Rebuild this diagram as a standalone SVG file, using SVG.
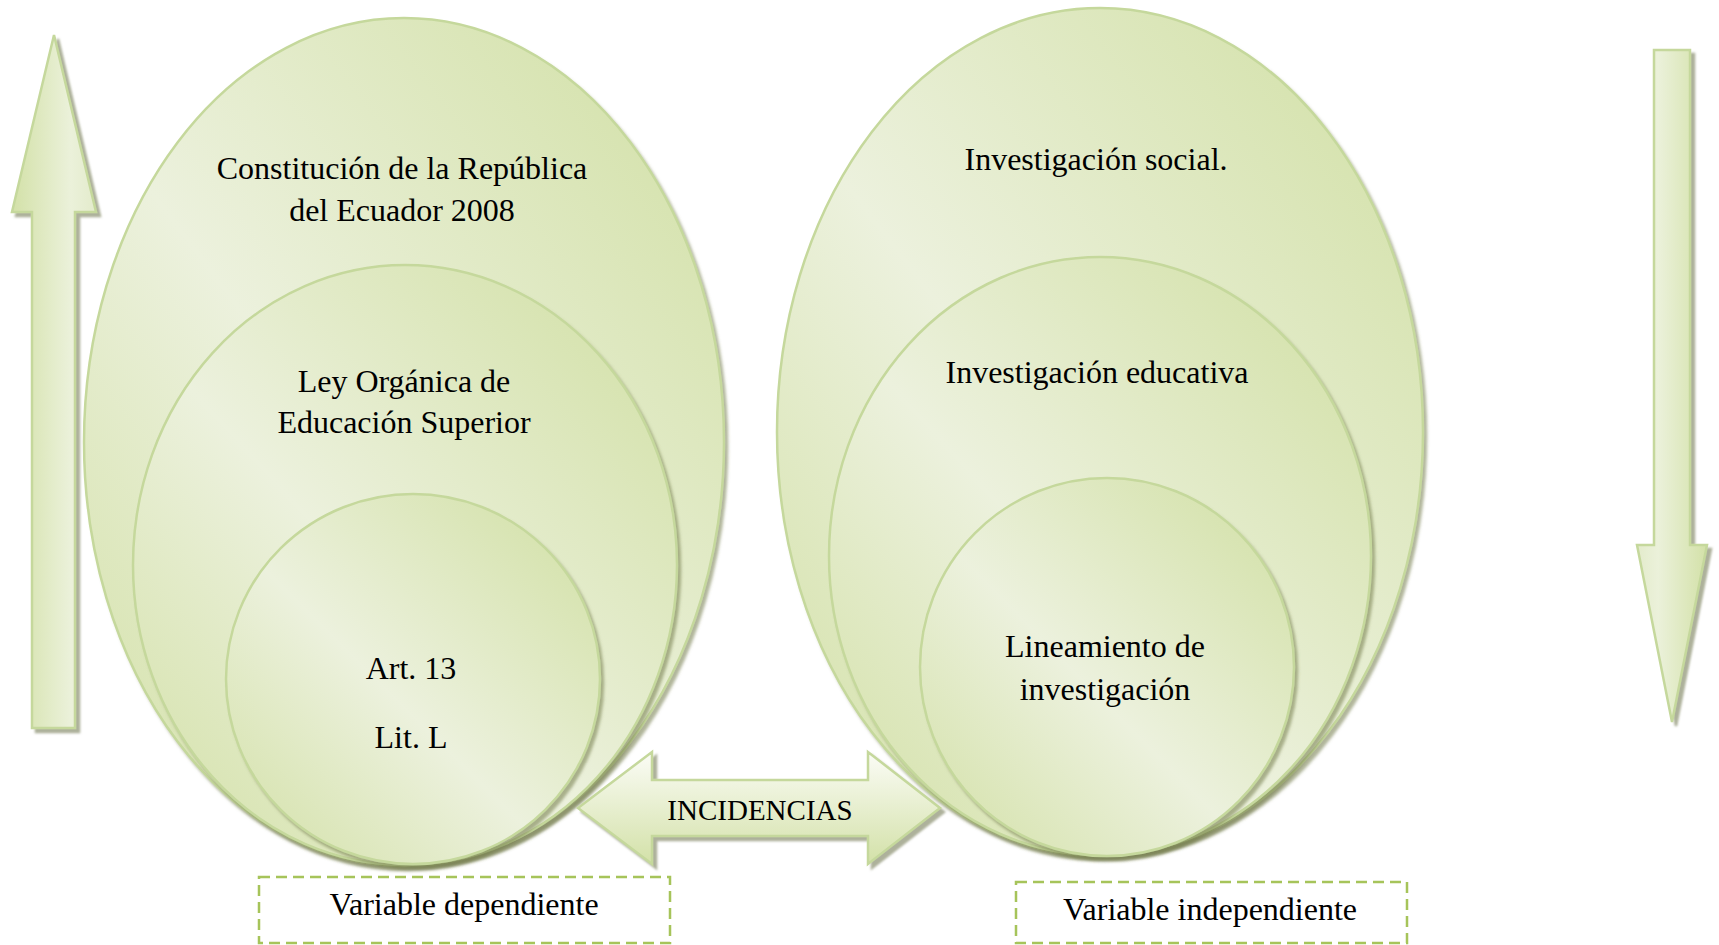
<svg xmlns="http://www.w3.org/2000/svg" width="1719" height="945" viewBox="0 0 1719 945">
<defs>
<linearGradient id="gEll" x1="0" y1="1" x2="1" y2="0">
<stop offset="0" stop-color="#d2e0a5"/>
<stop offset="0.45" stop-color="#ecf1dd"/>
<stop offset="1" stop-color="#d0dfa2"/>
</linearGradient>
<linearGradient id="gUp" x1="0" y1="0" x2="1" y2="0">
<stop offset="0" stop-color="#d3e1a8"/>
<stop offset="0.7" stop-color="#ebf1da"/>
<stop offset="1" stop-color="#e3ebcb"/>
</linearGradient>
<linearGradient id="gDown" x1="0" y1="0" x2="1" y2="0">
<stop offset="0" stop-color="#e3ebcb"/>
<stop offset="0.3" stop-color="#ebf1da"/>
<stop offset="1" stop-color="#d3e1a8"/>
</linearGradient>
<linearGradient id="gH" x1="0" y1="0" x2="0" y2="1">
<stop offset="0" stop-color="#fbfcf6"/>
<stop offset="1" stop-color="#d3e1a8"/>
</linearGradient>
<filter id="sh" x="-10%" y="-10%" width="125%" height="125%">
<feDropShadow dx="3" dy="4" stdDeviation="1.5" flood-color="#6f7a4a" flood-opacity="0.55"/>
</filter>
<filter id="shA" x="-20%" y="-10%" width="150%" height="125%">
<feDropShadow dx="4" dy="4" stdDeviation="0.8" flood-color="#8a9070" flood-opacity="0.7"/>
</filter>
</defs>
<style>
.ell{fill:url(#gEll);stroke:#c5d89c;stroke-width:2.5;filter:url(#sh)}
.t{font-family:"Liberation Serif","Times New Roman",serif;font-size:32px;fill:#000;text-anchor:middle}
.ts{font-size:29px}
.box{fill:none;stroke:#a6c45a;stroke-width:2.5;stroke-dasharray:11 6}
.arr{stroke:#c5d89c;stroke-width:2.5;filter:url(#shA)}
</style>
<rect width="1719" height="945" fill="#fff"/>

<g id="arrows">
<polygon id="arrow-up" class="arr" fill="url(#gUp)" points="54,35 96,212 75,212 75,728 32,728 32,212 12,212"/>
<polygon id="arrow-down" class="arr" fill="url(#gDown)" points="1654,50 1690,50 1690,545 1707,545 1672,722 1637,545 1654,545"/>
</g>

<g id="left-outer">
<ellipse class="ell" cx="404" cy="442" rx="320" ry="424"/>
<text class="t" x="402" y="179">Constitución de la República</text>
<text class="t" x="402" y="221">del Ecuador 2008</text>
</g>
<g id="left-middle">
<ellipse class="ell" cx="405" cy="565" rx="272" ry="300"/>
<text class="t" x="404" y="392">Ley Orgánica de</text>
<text class="t" x="404" y="433">Educación Superior</text>
</g>
<g id="left-inner">
<ellipse class="ell" cx="413" cy="679" rx="187" ry="185"/>
<text class="t" x="411" y="679">Art. 13</text>
<text class="t" x="411" y="748">Lit. L</text>
</g>

<g id="right-outer">
<ellipse class="ell" cx="1100" cy="432" rx="323" ry="424"/>
<text class="t" x="1096" y="170">Investigación social.</text>
</g>
<g id="right-middle">
<ellipse class="ell" cx="1100" cy="556" rx="271" ry="299"/>
<text class="t" x="1097" y="383">Investigación educativa</text>
</g>
<g id="right-inner">
<ellipse class="ell" cx="1107" cy="667" rx="187" ry="189"/>
<text class="t" x="1105" y="657">Lineamiento de</text>
<text class="t" x="1105" y="700">investigación</text>
</g>

<g id="connectors">
<polygon id="incidencias" class="arr" fill="url(#gH)" points="578,808 652,752 652,780 868,780 868,752 940,808 868,864 868,836 652,836 652,864"/>
<text class="t ts" x="760" y="820">INCIDENCIAS</text>
</g>

<g id="var-dep">
<rect class="box" x="259" y="877" width="411" height="66"/>
<text class="t" x="464" y="915">Variable dependiente</text>
</g>
<g id="var-indep">
<rect class="box" x="1016" y="882" width="391" height="61"/>
<text class="t" x="1210" y="920">Variable independiente</text>
</g>
</svg>
